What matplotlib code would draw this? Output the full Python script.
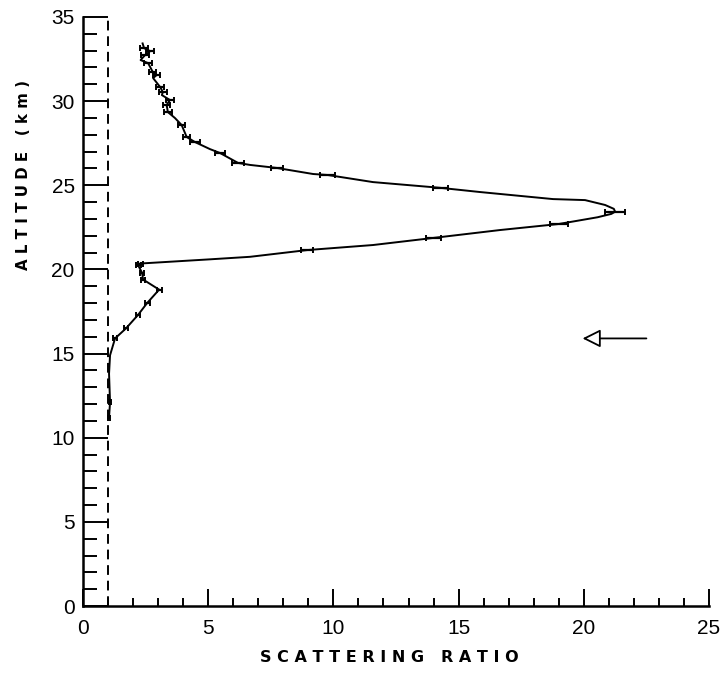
import matplotlib
matplotlib.use("Agg")
import matplotlib.pyplot as plt
import numpy as np
from matplotlib.ticker import MultipleLocator

# lidar profile: scattering ratio vs altitude (km)
altitude = [11.2, 12.1, 13.8, 14.9, 15.9, 16.5, 17.3, 18.0, 18.8, 19.4,
            19.8, 20.25, 20.35, 20.6, 20.75, 21.15, 21.45, 21.87, 22.34, 22.7,
            23.1, 23.3, 23.43, 23.6, 23.83, 24.12, 24.18, 24.6, 24.85, 25.19,
            25.61, 25.67, 26.03, 26.21, 26.33, 26.92, 27.15, 27.57, 27.87, 28.58,
            29.0, 29.35, 29.77, 30.07, 30.36, 30.54, 30.84, 31.37, 31.55, 31.75,
            32.26, 32.44, 32.74, 32.97, 33.15, 33.43]
ratio = [1.04, 1.08, 1.04, 1.08, 1.28, 1.72, 2.20, 2.56, 3.04, 2.40,
         2.36, 2.20, 2.28, 5.07, 6.67, 8.95, 11.58, 13.98, 16.65, 19.0,
         20.55, 21.1, 21.25, 21.2, 20.85, 20.05, 18.77, 15.85, 14.26, 11.58,
         9.78, 9.19, 7.74, 6.67, 6.19, 5.47, 5.07, 4.47, 4.14, 3.94,
         3.67, 3.39, 3.34, 3.47, 3.15, 3.19, 3.08, 2.80, 2.94, 2.78,
         2.60, 2.30, 2.48, 2.68, 2.44, 2.38]
# half width of the horizontal error bar at each point (0 = none drawn)
ratio_err = [0.05, 0.05, 0.0, 0.0, 0.08, 0.08, 0.08, 0.1, 0.1, 0.08,
             0.08, 0.1, 0.1, 0.0, 0.0, 0.25, 0.0, 0.3, 0.0, 0.35,
             0.0, 0.0, 0.4, 0.0, 0.0, 0.0, 0.0, 0.0, 0.3, 0.0,
             0.3, 0.0, 0.25, 0.0, 0.25, 0.2, 0.0, 0.2, 0.15, 0.15,
             0.0, 0.15, 0.15, 0.15, 0.0, 0.15, 0.15, 0.0, 0.15, 0.15,
             0.15, 0.0, 0.15, 0.15, 0.15, 0.0]

baseline_ratio = 1.0
arrow_alt = 15.9
arrow_from, arrow_to = 22.5, 19.95

tick_font = ['Liberation Sans', 'DejaVu Sans']
label_font = ['DejaVu Sans']

fig = plt.figure(figsize=(7.25, 6.74), dpi=100)
ax = fig.add_axes([83/725, 1-606/674, 626/725, 589/674])

ax.plot([baseline_ratio, baseline_ratio], [0, 35], color='black', lw=1.4,
        ls=(0, (5, 3)))
ax.plot(ratio, altitude, color='black', lw=1.4)

err = np.array(ratio_err)
sel = err > 0
ax.errorbar(np.array(ratio)[sel], np.array(altitude)[sel], xerr=err[sel],
            fmt='none', ecolor='black', elinewidth=1.6, capsize=2.5,
            capthick=1.4)

ax.annotate('', xy=(arrow_to, arrow_alt), xytext=(arrow_from, arrow_alt),
            arrowprops=dict(arrowstyle='-|>,head_length=1.1,head_width=0.55',
                            fc='white', ec='black', lw=1.3,
                            shrinkA=0, shrinkB=0))

ax.set_xlim(0, 25)
ax.set_ylim(0, 35)
for s in ('top', 'right'):
    ax.spines[s].set_visible(False)
for s in ('left', 'bottom'):
    ax.spines[s].set_linewidth(1.8)

ax.xaxis.set_major_locator(MultipleLocator(5))
ax.xaxis.set_minor_locator(MultipleLocator(1))
ax.yaxis.set_major_locator(MultipleLocator(5))
ax.yaxis.set_minor_locator(MultipleLocator(1))
ax.tick_params(axis='x', which='major', direction='in', length=12, width=1.4,
               pad=9, labelsize=15)
ax.tick_params(axis='x', which='minor', direction='in', length=6, width=1.4)
ax.tick_params(axis='y', which='major', direction='in', length=18, width=1.4,
               pad=6, labelsize=15)
ax.tick_params(axis='y', which='minor', direction='in', length=10, width=1.4)
for lab in ax.get_xticklabels() + ax.get_yticklabels():
    lab.set_family(tick_font)
    lab.set_fontweight('light')

fig.text(389/725, 1-658/674, 'S C A T T E R I N G   R A T I O',
         ha='center', va='center', fontsize=11.5, fontweight='bold',
         family=label_font)
fig.text(24/725, 1-175/674, 'A L T I T U D E   ( k m )',
         ha='center', va='center', rotation=90, fontsize=10.8,
         fontweight='bold', family=label_font)

fig.savefig('out.png', dpi=100)
